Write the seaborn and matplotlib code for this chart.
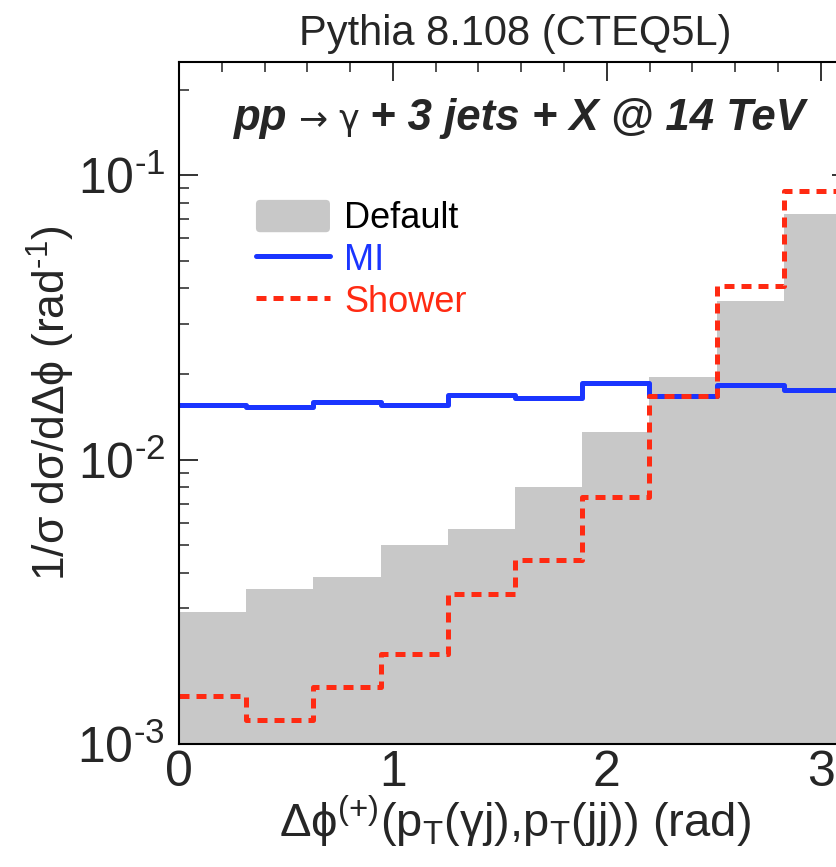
import numpy as np
import pandas as pd
import matplotlib
matplotlib.use("Agg")
import matplotlib.pyplot as plt
import matplotlib.patches as mpatches
from matplotlib.lines import Line2D
from matplotlib.legend_handler import HandlerPatch
from matplotlib.ticker import LogLocator, MultipleLocator, NullFormatter, FuncFormatter
import seaborn as sns

# Normalised azimuthal-separation distributions, 10 bins over [0, pi]
n_bins = 10
bin_edges = np.linspace(0.0, np.pi, n_bins + 1).tolist()
default_vals = [2.90e-3, 3.51e-3, 3.88e-3, 5.02e-3, 5.71e-3,
                8.01e-3, 1.25e-2, 1.95e-2, 3.60e-2, 7.30e-2]
mi_vals = [1.55e-2, 1.53e-2, 1.60e-2, 1.55e-2, 1.69e-2,
           1.64e-2, 1.86e-2, 1.67e-2, 1.83e-2, 1.76e-2]
shower_vals = [1.48e-3, 1.215e-3, 1.58e-3, 2.07e-3, 3.37e-3,
               4.42e-3, 7.37e-3, 1.67e-2, 4.07e-2, 8.80e-2]
series_names = ["Default", "MI", "Shower"]

edges = np.asarray(bin_edges)
bin_centers = 0.5 * (edges[:-1] + edges[1:])
df = pd.DataFrame({
    "dphi": np.tile(bin_centers, 3),
    "value": np.concatenate([default_vals, mi_vals, shower_vals]),
    "tune": np.repeat(series_names, n_bins),
})

sns.set_theme(style="ticks")
plt.rcParams["font.family"] = ["Liberation Sans", "DejaVu Sans"]
plt.rcParams["mathtext.fontset"] = "custom"
plt.rcParams["mathtext.rm"] = "Liberation Sans"
plt.rcParams["mathtext.it"] = "Liberation Sans:italic"
plt.rcParams["mathtext.bf"] = "Liberation Sans:bold"
plt.rcParams["axes.unicode_minus"] = False

GRAY = "#c8c8c8"
BLUE = "#1a35ff"
RED = "#ff2a12"

W, H = 837, 867
fig = plt.figure(figsize=(W / 100, H / 100), dpi=100)
ax = fig.add_axes([179 / W, 1 - 744 / H, (851 - 179) / W, (744 - 62) / H])
ax.set_yscale("log")

sns.histplot(data=df[df.tune == "Default"], x="dphi", weights="value",
             bins=bin_edges, element="step", fill=True, color=GRAY,
             alpha=1.0, linewidth=0, ax=ax)
sns.histplot(data=df[df.tune == "MI"], x="dphi", weights="value",
             bins=bin_edges, element="step", fill=False, color=BLUE,
             linewidth=3.6, ax=ax)
sns.histplot(data=df[df.tune == "Shower"], x="dphi", weights="value",
             bins=bin_edges, element="step", fill=False, color=RED,
             linewidth=3.6, linestyle=(0, (2.0, 1.4)), ax=ax)

ax.set_xlim(0, np.pi)
ax.set_ylim(1e-3, 0.25)


def decade_label(v, _pos):
    """Power-of-ten label with a short hyphen in the exponent."""
    e = int(round(np.log10(v)))
    sign = "-" if e < 0 else ""
    return r"10$^{\text{%s%d}}$" % (sign, abs(e))


# ROOT-like frame: inward ticks on all sides
for s in ax.spines.values():
    s.set_linewidth(1.5)
    s.set_color("black")
ax.xaxis.set_major_locator(MultipleLocator(1))
ax.xaxis.set_minor_locator(MultipleLocator(0.2))
ax.yaxis.set_major_locator(LogLocator(base=10))
ax.yaxis.set_major_formatter(FuncFormatter(decade_label))
ax.yaxis.set_minor_locator(LogLocator(base=10, subs=np.arange(2, 10)))
ax.yaxis.set_minor_formatter(NullFormatter())
ax.tick_params(which="both", direction="in", top=True, right=True,
               color="#333333")
ax.tick_params(which="major", length=14, width=1.4, labelsize=36)
ax.tick_params(which="minor", length=7, width=1.2)
ax.tick_params(axis="y", which="major", pad=10)
ax.tick_params(axis="x", which="major", pad=4)

ax.set_xlabel(r"Δϕ$^{(+)}$(p$_{\mathrm{T}}$(γj),p$_{\mathrm{T}}$(jj)) (rad)",
              fontsize=34)
ax.set_ylabel(r"1/σ dσ/dΔϕ (rad$^{\text{-1}}$)", fontsize=32)
ax.yaxis.set_label_coords(-0.152, 0.5)
ax.xaxis.set_label_coords(0.5, -0.073)

ax.set_title("Pythia 8.108 (CTEQ5L)", fontsize=30, pad=12)

# process annotation: bold-italic text around an upright arrow and photon
y_ann = 0.90
bi = dict(fontsize=31.5, fontweight="bold", fontstyle="italic")
t1 = ax.text(0.082, y_ann, "pp", transform=ax.transAxes, va="baseline",
             ha="left", **bi)
t2 = ax.annotate(" → γ ", xy=(1, y_ann), xycoords=(t1, "axes fraction"),
                 va="baseline", ha="left", fontsize=25,
                 family=["DejaVu Sans"])
t3 = ax.annotate("+ 3 jets + X @ 14 TeV", xy=(1, y_ann),
                 xycoords=(t2, "axes fraction"), va="baseline", ha="left", **bi)


class RoundPatchHandler(HandlerPatch):
    def create_artists(self, legend, orig_handle, xdescent, ydescent,
                       width, height, fontsize, trans):
        p = mpatches.FancyBboxPatch(
            (-xdescent + 2, -ydescent + 2), width - 4, height - 4,
            boxstyle="round,pad=2,rounding_size=3",
            facecolor=orig_handle.get_facecolor(), edgecolor="none",
            transform=trans)
        return [p]


handles = [
    mpatches.Patch(facecolor=GRAY, edgecolor="none"),
    Line2D([], [], color=BLUE, lw=3.6),
    Line2D([], [], color=RED, lw=3.6, linestyle=(0, (2.0, 1.4))),
]
leg = ax.legend(handles, series_names, loc="upper left",
                bbox_to_anchor=(0.093, 0.819), frameon=False, fontsize=26,
                handlelength=2.05, handleheight=1.0, handletextpad=0.4,
                labelspacing=0.15, borderaxespad=0,
                handler_map={mpatches.Patch: RoundPatchHandler()})
for txt, c in zip(leg.get_texts(), ["black", BLUE, RED]):
    txt.set_color(c)

fig.savefig("out.png", dpi=100)
